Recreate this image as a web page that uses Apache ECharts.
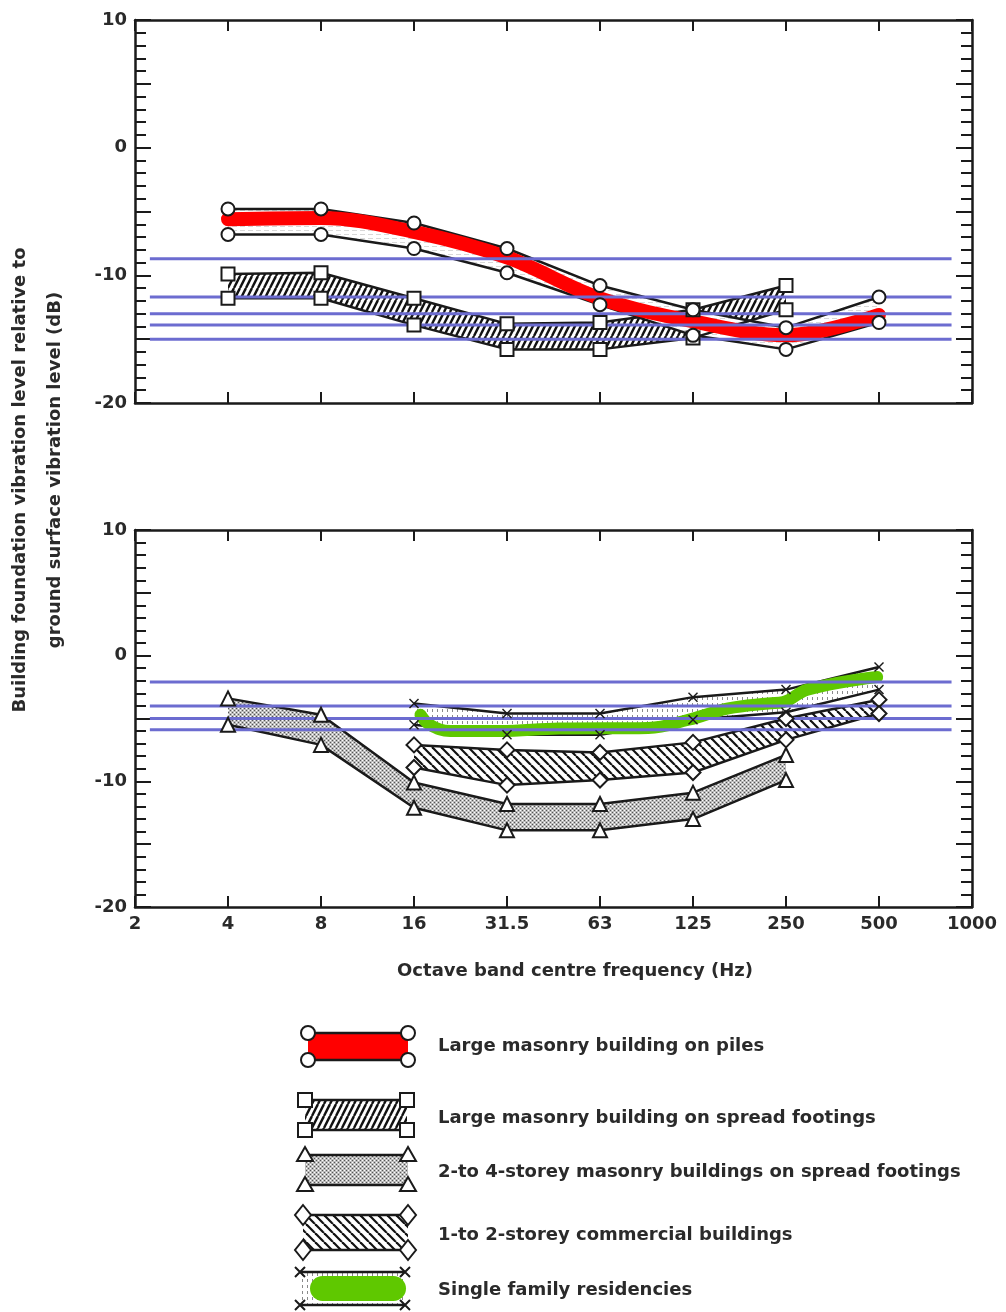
<!DOCTYPE html>
<html>
<head>
<meta charset="utf-8">
<script src="https://cdn.jsdelivr.net/npm/echarts@6/dist/echarts.min.js"></script>
<style>
  html, body { margin: 0; padding: 0; background: #fff; }
  #chart { width: 1006px; height: 1312px; }
</style>
</head>
<body>
<div id="chart"></div>
<script>
// x is the octave index: 0 = 2 Hz, 1 = 4 Hz ... 9 = 1000 Hz
var freqLabels = ['2', '4', '8', '16', '31.5', '63', '125', '250', '500', '1000'];

// top panel
var pilesX = [1, 2, 3, 4, 5, 6, 7, 8];
var pilesUpper = [-4.8, -4.8, -5.9, -7.9, -10.8, -12.7, -14.1, -11.7];
var pilesLower = [-6.8, -6.8, -7.9, -9.8, -12.3, -14.7, -15.8, -13.7];
var spreadX = [1, 2, 3, 4, 5, 6, 7];
var spreadUpper = [-9.9, -9.8, -11.8, -13.8, -13.7, -12.7, -10.8];
var spreadLower = [-11.8, -11.8, -13.9, -15.8, -15.8, -14.9, -12.7];
var redMark = [-5.6, -5.5, -6.6, -8.6, -11.8, -13.6, -14.7, -13.1];
var blueTop = [-8.7, -11.7, -13.0, -13.9, -15.0];

// bottom panel
var storeyX = [1, 2, 3, 4, 5, 6, 7];
var storeyUpper = [-3.4, -4.7, -10.1, -11.8, -11.8, -10.9, -7.9];
var storeyLower = [-5.5, -7.1, -12.1, -13.9, -13.9, -13.0, -9.9];
var commX = [3, 4, 5, 6, 7, 8];
var commUpper = [-7.1, -7.5, -7.7, -6.9, -5.0, -3.5];
var commLower = [-8.9, -10.3, -9.9, -9.3, -6.7, -4.6];
var famX = [3, 4, 5, 6, 7, 8];
var famUpper = [-3.8, -4.6, -4.6, -3.3, -2.7, -0.9];
var famLower = [-5.5, -6.3, -6.3, -5.1, -4.5, -2.7];
var greenX = [3.07, 3.17, 3.39, 3.92, 4.56, 5.52, 5.95, 6.38, 6.81, 6.97, 7.23, 7.98];
var greenY = [-4.7, -5.5, -6.0, -6.0, -5.8, -5.75, -5.1, -4.2, -3.8, -3.7, -2.7, -1.7];
var blueBottom = [-2.1, -4.0, -5.0, -5.9];
var blueSpan = [0.16, 8.78];

var legendNames = [
  'Large masonry building on piles',
  'Large masonry building on spread footings',
  '2-to 4-storey masonry buildings on spread footings',
  '1-to 2-storey commercial buildings',
  'Single family residencies'
];

var INK = '#1a1a1a';
var TXT = '#2a2a2a';
var FONT = '"DejaVu Sans", "Liberation Sans", Arial, sans-serif';
var crossPath = 'path://M0,1 L1,0 L5,4 L9,0 L10,1 L6,5 L10,9 L9,10 L5,6 L1,10 L0,9 L4,5 Z';

function pattern(w, h, draw) {
  var c = document.createElement('canvas');
  c.width = w; c.height = h;
  var ctx = c.getContext('2d');
  ctx.fillStyle = '#fff';
  ctx.fillRect(0, 0, w, h);
  draw(ctx, w, h);
  return { image: c, repeat: 'repeat' };
}
function hatch(w, h, lw, forward) {
  return pattern(w, h, function (ctx) {
    ctx.strokeStyle = '#111';
    ctx.lineWidth = lw;
    for (var k = -1; k <= 1; k++) {
      ctx.beginPath();
      if (forward) { ctx.moveTo(k * w, h); ctx.lineTo(k * w + w, 0); }
      else { ctx.moveTo(k * w, 0); ctx.lineTo(k * w + w, h); }
      ctx.stroke();
    }
  });
}
var fwdHatch = hatch(6, 12, 2.4, true);
var backHatch = hatch(9, 9, 2.2, false);
var stipple = pattern(4, 4, function (ctx) {
  ctx.fillStyle = '#bcbcbc'; ctx.fillRect(0, 0, 4, 4);
  ctx.fillStyle = '#555';
  ctx.fillRect(0, 0, 1, 1); ctx.fillRect(2, 2, 1, 1);
  ctx.fillStyle = '#fff';
  ctx.fillRect(2, 0, 1, 1); ctx.fillRect(0, 2, 1, 1);
});
var dashes = pattern(5, 6, function (ctx) {
  ctx.fillStyle = '#8a8a8a'; ctx.fillRect(2, 1, 1, 3);
});
var pale = pattern(8, 4, function (ctx) {
  ctx.fillStyle = '#d8d8d8'; ctx.fillRect(0, 2, 5, 1);
});

function band(xs, lo, hi, fill, ax) {
  return {
    type: 'custom', xAxisIndex: ax, yAxisIndex: ax, silent: true,
    data: xs.map(function (x, i) { return [x, lo[i], hi[i]]; }),
    encode: { x: 0, y: [1, 2] },
    renderItem: function (params, api) {
      if (params.dataIndex !== 0) return null;
      var pts = [], i;
      for (i = 0; i < xs.length; i++) pts.push(api.coord([xs[i], hi[i]]));
      for (i = xs.length - 1; i >= 0; i--) pts.push(api.coord([xs[i], lo[i]]));
      return { type: 'polygon', shape: { points: pts }, style: { fill: fill, stroke: null } };
    }
  };
}
function edge(name, xs, ys, symbol, size, ax) {
  var isCross = symbol === crossPath;
  return {
    name: name, type: 'line', xAxisIndex: ax, yAxisIndex: ax, silent: true,
    data: xs.map(function (x, i) { return [x, ys[i]]; }),
    symbol: symbol, symbolSize: size,
    lineStyle: { color: INK, width: 2.5 },
    itemStyle: isCross ? { color: INK, borderWidth: 0 } : { color: '#fff', borderColor: INK, borderWidth: 2 }
  };
}
function flat(v, ax, color) {
  return {
    type: 'line', xAxisIndex: ax, yAxisIndex: ax, silent: true, symbol: 'none',
    data: [[blueSpan[0], v], [blueSpan[1], v]],
    lineStyle: { color: color, width: 3 }
  };
}

function xAxes(gi, showLabels) {
  var base = {
    type: 'value', gridIndex: gi, min: 0, max: 9, interval: 1,
    axisLine: { onZero: false, lineStyle: { color: INK, width: 2.5 } },
    axisTick: { inside: true, length: 11, lineStyle: { color: INK, width: 2 } },
    splitLine: { show: false }
  };
  return [
    Object.assign({}, base, {
      position: 'bottom',
      axisLabel: {
        show: showLabels, margin: 8, color: TXT, fontSize: 18, fontWeight: 'bold', fontFamily: FONT,
        formatter: function (v) { return freqLabels[Math.round(v)]; }
      }
    }),
    Object.assign({}, base, { position: 'top', axisLabel: { show: false } })
  ];
}
function yAxes(gi) {
  var base = {
    type: 'value', gridIndex: gi, min: -20, max: 10, interval: 5,
    axisLine: { show: true, onZero: false, lineStyle: { color: INK, width: 2.5 } },
    axisTick: { inside: true, length: 16, lineStyle: { color: INK, width: 2 } },
    minorTick: { show: true, splitNumber: 5, length: 11, lineStyle: { color: INK, width: 2 } },
    splitLine: { show: false }, minorSplitLine: { show: false }
  };
  return [
    Object.assign({}, base, {
      position: 'left',
      axisLabel: {
        margin: 8, color: TXT, fontSize: 18, fontWeight: 'bold', fontFamily: FONT,
        formatter: function (v) { return v % 10 === 0 ? String(v) : ''; }
      }
    }),
    Object.assign({}, base, { position: 'right', axisLabel: { show: false } })
  ];
}

var series = [
  // top panel
  band(spreadX, spreadLower, spreadUpper, fwdHatch, 0),
  edge(legendNames[1], spreadX, spreadUpper, 'rect', 13, 0),
  edge(legendNames[1], spreadX, spreadLower, 'rect', 13, 0),
  band(pilesX, pilesLower, pilesUpper, pale, 0),
  edge(legendNames[0], pilesX, pilesUpper, 'circle', 13, 0),
  edge(legendNames[0], pilesX, pilesLower, 'circle', 13, 0),
  {
    type: 'line', xAxisIndex: 0, yAxisIndex: 0, silent: true, symbol: 'none', smooth: 0.35,
    data: pilesX.map(function (x, i) { return [x, redMark[i]]; }),
    lineStyle: { color: '#ff0000', width: 14, cap: 'round' }
  },
  // bottom panel
  band(storeyX, storeyLower, storeyUpper, stipple, 2),
  edge(legendNames[2], storeyX, storeyUpper, 'triangle', 14, 2),
  edge(legendNames[2], storeyX, storeyLower, 'triangle', 14, 2),
  band(commX, commLower, commUpper, backHatch, 2),
  edge(legendNames[3], commX, commUpper, 'diamond', 15, 2),
  edge(legendNames[3], commX, commLower, 'diamond', 15, 2),
  band(famX, famLower, famUpper, dashes, 2),
  edge(legendNames[4], famX, famUpper, crossPath, 10, 2),
  edge(legendNames[4], famX, famLower, crossPath, 10, 2),
  {
    type: 'line', xAxisIndex: 2, yAxisIndex: 2, silent: true, symbol: 'none', smooth: 0.4,
    data: greenX.map(function (x, i) { return [x, greenY[i]]; }),
    lineStyle: { color: '#5fc800', width: 12, cap: 'round' }
  }
];
blueTop.forEach(function (v) { series.push(flat(v, 0, '#6c6cd0')); });
blueBottom.forEach(function (v) { series.push(flat(v, 2, '#6c6cd0')); });

// legend drawn as graphic elements (band icons with end symbols)
var legendRows = [
  { y0: 1033, y1: 1060, x0: 308, x1: 408, fill: '#ff0000', sym: 'circle', ty: 1046 },
  { y0: 1100, y1: 1130, x0: 305, x1: 407, fill: fwdHatch, sym: 'rect', ty: 1118 },
  { y0: 1155, y1: 1185, x0: 305, x1: 408, fill: stipple, sym: 'triangle', ty: 1172 },
  { y0: 1215, y1: 1250, x0: 303, x1: 408, fill: backHatch, sym: 'diamond', ty: 1235 },
  { y0: 1272, y1: 1305, x0: 300, x1: 405, fill: dashes, sym: 'cross', ty: 1290 }
];
function symbolEl(kind, cx, cy) {
  var st = { fill: '#fff', stroke: INK, lineWidth: 2 };
  if (kind === 'circle') return { type: 'circle', shape: { cx: cx, cy: cy, r: 7 }, style: st, z: 10 };
  if (kind === 'rect') return { type: 'rect', shape: { x: cx - 7, y: cy - 7, width: 14, height: 14 }, style: st, z: 10 };
  if (kind === 'triangle') return { type: 'polygon', shape: { points: [[cx, cy - 8], [cx + 8, cy + 6], [cx - 8, cy + 6]] }, style: st, z: 10 };
  if (kind === 'diamond') return { type: 'polygon', shape: { points: [[cx, cy - 10], [cx + 8, cy], [cx, cy + 10], [cx - 8, cy]] }, style: st, z: 10 };
  return { type: 'polyline', shape: { points: [[cx - 5, cy - 5], [cx + 5, cy + 5], [cx, cy], [cx + 5, cy - 5], [cx - 5, cy + 5]] }, style: { stroke: INK, lineWidth: 2, fill: null }, z: 10 };
}
var graphics = [];
legendRows.forEach(function (r, i) {
  graphics.push({ type: 'rect', shape: { x: r.x0, y: r.y0, width: r.x1 - r.x0, height: r.y1 - r.y0 }, style: { fill: r.fill }, z: 5 });
  graphics.push({ type: 'line', shape: { x1: r.x0, y1: r.y0, x2: r.x1, y2: r.y0 }, style: { stroke: INK, lineWidth: 2.5 }, z: 6 });
  graphics.push({ type: 'line', shape: { x1: r.x0, y1: r.y1, x2: r.x1, y2: r.y1 }, style: { stroke: INK, lineWidth: 2.5 }, z: 6 });
  [[r.x0, r.y0], [r.x1, r.y0], [r.x0, r.y1], [r.x1, r.y1]].forEach(function (p) {
    graphics.push(symbolEl(r.sym, p[0], p[1]));
  });
  graphics.push({
    type: 'text', x: 438, y: r.ty, z: 10,
    style: { text: legendNames[i], fill: TXT, font: 'bold 18px ' + FONT, textVerticalAlign: 'middle' }
  });
});
graphics.push({ type: 'rect', shape: { x: 310, y: 1276, width: 96, height: 25, r: 12.5 }, style: { fill: '#5fc800' }, z: 11 });
graphics.push({
  type: 'text', x: 20, y: 480, rotation: Math.PI / 2, z: 10,
  style: { text: 'Building foundation vibration level relative to', fill: TXT, font: 'bold 18px ' + FONT, textAlign: 'center', textVerticalAlign: 'middle' }
});
graphics.push({
  type: 'text', x: 55, y: 470, rotation: Math.PI / 2, z: 10,
  style: { text: 'ground surface vibration level (dB)', fill: TXT, font: 'bold 18px ' + FONT, textAlign: 'center', textVerticalAlign: 'middle' }
});
graphics.push({
  type: 'text', x: 575, y: 971, z: 10,
  style: { text: 'Octave band centre frequency (Hz)', fill: TXT, font: 'bold 18px ' + FONT, textAlign: 'center', textVerticalAlign: 'middle' }
});

var chart = echarts.init(document.getElementById('chart'));
chart.setOption({
  animation: false,
  backgroundColor: '#fff',
  grid: [
    { left: 135, top: 20, width: 837, height: 383 },
    { left: 135, top: 530, width: 837, height: 377 }
  ],
  xAxis: xAxes(0, false).concat(xAxes(1, true)),
  yAxis: yAxes(0).concat(yAxes(1)),
  series: series,
  graphic: graphics
});
</script>
</body>
</html>
